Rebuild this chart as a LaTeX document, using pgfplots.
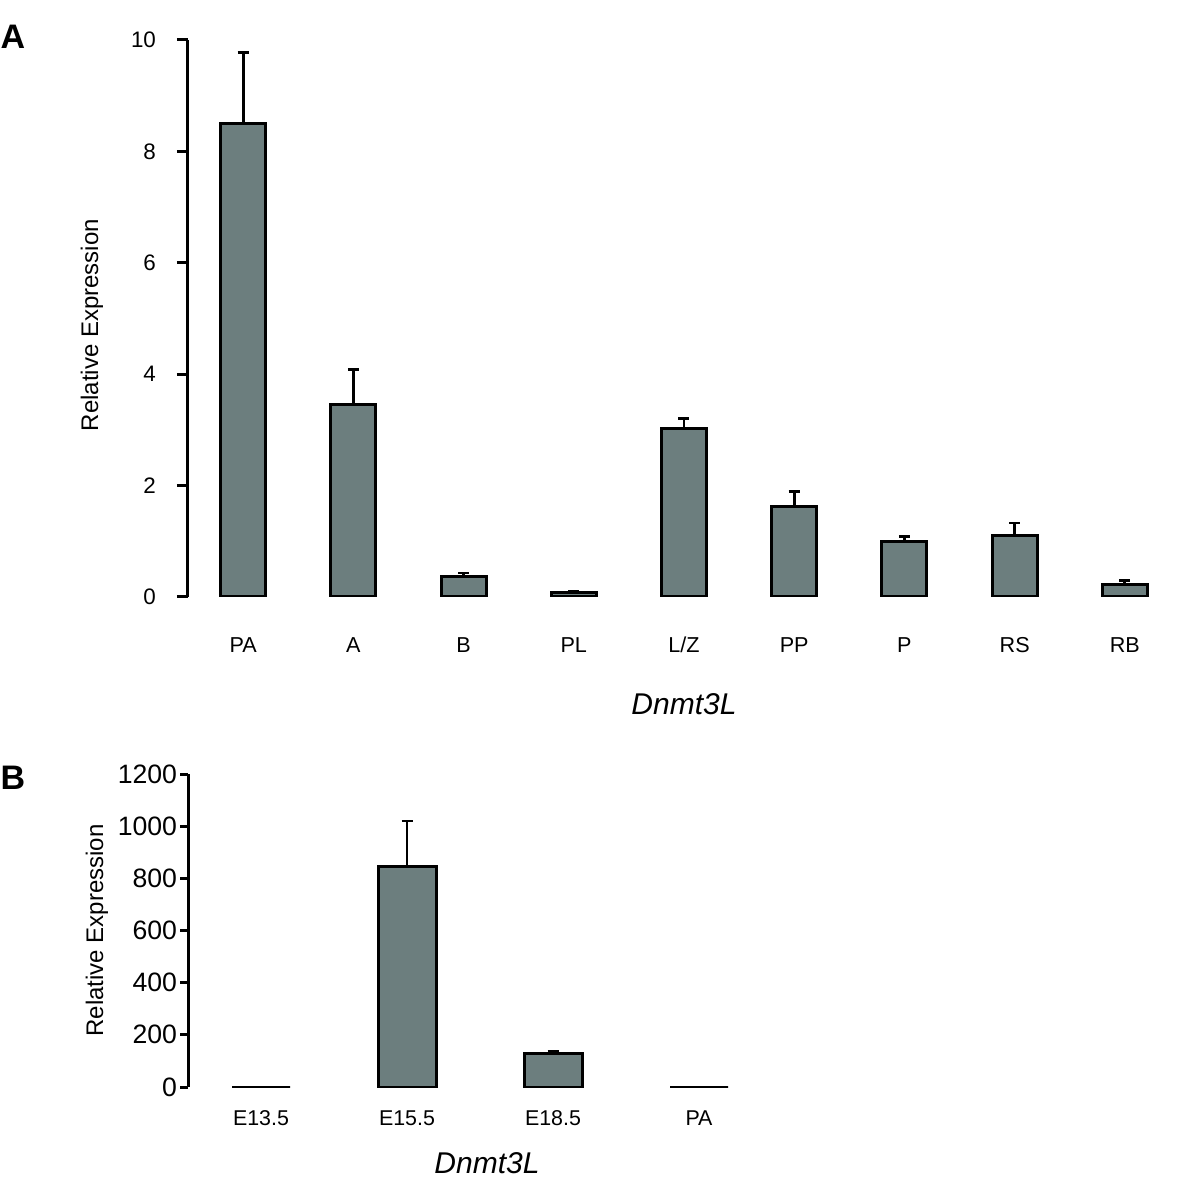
\documentclass[border=0pt]{standalone}
\usepackage{pgfplots}
\pgfplotsset{compat=1.18}
\usepackage{pgfplotstable}
\usepackage{fontspec}
\setmainfont{Liberation Sans}
\definecolor{barfill}{RGB}{108,126,126}
\pgfplotstableread{
x y err
0 8.50 1.28
1 3.45 0.63
2 0.36 0.07
3 0.08 0.02
4 3.03 0.17
5 1.62 0.28
6 0.99 0.09
7 1.10 0.23
8 0.23 0.06
}\topdata
\pgfplotstableread{
x y err
0 0 0
1 847 173
2 128 10
3 0 0
}\botdata
\begin{document}
\begin{tikzpicture}
\useasboundingbox (0,0) rectangle (600pt,592pt);
\pgfplotsset{
  common/.style={
    scale only axis,
    axis y line*=left, axis x line*=bottom,
    x axis line style={draw=none},
    y axis line style={line width=1.5pt},
    xtick style={draw=none},
    ytick style={line width=1.5pt, black},
    tick align=outside,
    /pgf/number format/assume math mode=true,
    /pgf/number format/1000 sep={},
    ybar,
    ylabel={Relative Expression},
    xlabel={\itshape Dnmt3L},
    xlabel style={font=\fontsize{15}{17}\selectfont, anchor=center},
    ylabel style={font=\fontsize{12}{14}\selectfont, anchor=center, rotate=0},
  },
  mybars/.style={fill=barfill, draw=black, line width=1.5pt,
    error bars/.cd, y dir=plus, y explicit,
    error bar style={line width=1.4pt, black},
    error mark options={rotate=90, line width=1.4pt, mark size=2.75pt, black}},
}
\begin{axis}[common,
  at={(94pt,293.5pt)}, anchor=south west,
  width=496pt, height=278.5pt,
  xmin=-0.5, xmax=8.5, ymin=0, ymax=10,
  ytick={0,2,4,6,8,10},
  major tick length=5.5pt,
  bar width=22.5pt,
  xtick={0,...,8}, xticklabels={PA,A,B,PL,L/Z,PP,P,RS,RB},
  xticklabel style={font=\fontsize{10.8}{12}\selectfont, text height=7.8pt, text depth=0pt, yshift=-11pt},
  yticklabel style={font=\fontsize{11.2}{13}\selectfont, xshift=-7pt},
  xlabel style={at={(axis description cs:0.5,-0.192)}},
  ylabel style={at={(axis description cs:-0.0968,0.488)}},
]
\addplot[mybars] table[x=x, y=y, y error=err] {\topdata};
\end{axis}
\begin{axis}[common,
  at={(94pt,48.5pt)}, anchor=south west,
  width=292pt, height=156.5pt,
  xmin=-0.5, xmax=3.5, ymin=0, ymax=1200,
  ytick={0,200,...,1200},
  major tick length=4pt,
  bar width=29pt,
  xtick={0,...,3}, xticklabels={E13.5,E15.5,E18.5,PA},
  xticklabel style={font=\fontsize{10.7}{12}\selectfont, text height=7.8pt, text depth=0pt, yshift=-4pt},
  yticklabel style={font=\fontsize{13.3}{15}\selectfont, xshift=2pt},
  xlabel style={at={(axis description cs:0.512,-0.243)}},
  ylabel style={at={(axis description cs:-0.156,0.50)}},
]
\addplot[mybars] table[x=x, y=y, y error=err] {\botdata};
\end{axis}
\node[font=\fontsize{17}{19}\selectfont\bfseries] at (6.5pt,573.5pt) {A};
\node[font=\fontsize{17}{19}\selectfont\bfseries] at (6.5pt,203pt) {B};
\end{tikzpicture}
\end{document}
